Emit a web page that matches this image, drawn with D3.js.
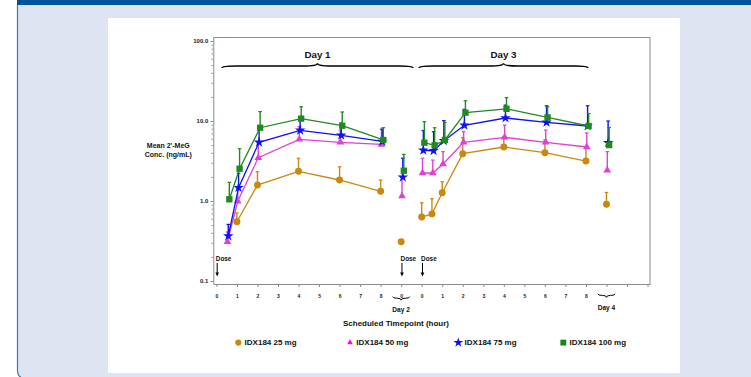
<!DOCTYPE html>
<html>
<head>
<meta charset="utf-8">
<script src="https://cdn.jsdelivr.net/npm/d3@7"></script>
<style>
  html, body { margin: 0; padding: 0; background: #ffffff; }
  svg { display: block; font-family: "Liberation Sans", Arial, sans-serif; }
</style>
</head>
<body>
<svg id="chart" width="751" height="377"></svg>
<script>
// Sampling schedule: study day and nominal hour of every sample
const sampleDay  = [1, 1, 1, 1, 1, 1, 2, 3, 3, 3, 3, 3, 3, 3, 4];
const sampleHour = [0.5, 1, 2, 4, 6, 8, 0, 0, 0.5, 1, 2, 4, 6, 8, 0];

// Mean concentration (ng/mL) and mean + SD for each dose group
const mean25   = [null, 0.55, 1.58, 2.35, 1.83, 1.32, 0.31, 0.63, 0.69, 1.27, 3.9, 4.73, 4.02, 3.16, 0.91];
const upper25  = [null, 0.71, 2.32, 3.42, 2.68, 1.83, null, 0.95, 1.07, 1.74, 6.2, 6.36, 5.79, 4.77, 1.28];
const mean50   = [0.31, 0.99, 3.48, 5.9, 5.42, 5.1, 1.15, 2.24, 2.24, 2.9, 5.42, 6.25, 5.42, 4.73, 2.42];
const upper50  = [0.41, 1.44, 5.3, 8.5, 7.7, 7.9, 1.98, 3.42, 3.25, 4.14, 7.35, 8.9, 7.7, 7.1, 4.14];
const mean75   = [0.365, 1.47, 5.42, 7.65, 6.63, 5.57, 1.98, 4.3, 4.25, 5.67, 8.84, 10.9, 9.63, 8.66, 5.35];
const upper75  = [0.51, 2.22, 8.1, 10.8, 9.4, 7.9, 3.42, 7.6, 7.35, 10.1, 14, 15.8, 15.5, 15.5, 10.0];
const mean100  = [1.05, 2.53, 8.24, 10.7, 8.73, 5.79, 2.39, 5.35, 4.97, 5.79, 12.7, 14.2, 11.1, 8.66, 5.0];
const upper100 = [1.71, 4.5, 13.1, 15.1, 12.96, 8.24, 3.83, 9.8, 8.24, 9.6, 17.9, 19.6, 15.1, 12.4, 8.3];

const groupNames = ["IDX184 25 mg", "IDX184 50 mg", "IDX184 75 mg", "IDX184 100 mg"];

// Axis labels
const xTickLabels = ["0","1","2","3","4","5","6","7","8","0","0","1","2","3","4","5","6","7","8","","",""];
const yTickValues = [0.1, 1, 10, 100];
const yTickLabels = ["0.1", "1.0", "10.0", "100.0"];
const dosingSlots = [0, 9, 10];

// ---- layout ----
const svg = d3.select("#chart");
const dayStart = {1: 0, 2: 9, 3: 10, 4: 19};
const slotOf = (day, hour) => dayStart[day] + hour;

const x = d3.scaleLinear().domain([-0.15, 21.12]).range([213.3, 650]);
const y = d3.scaleLog().domain([0.0917, 110.6]).range([284, 37.5]);

const groups = [
  {name: groupNames[0], mean: mean25,  upper: upper25,  color: "#C98810", symbol: d3.symbolCircle,   size: 38, legendSize: 30, dodge: 0.0},
  {name: groupNames[1], mean: mean50,  upper: upper50,  color: "#E040D6", symbol: d3.symbolTriangle, size: 26, legendSize: 14, dodge: 0.04, legendColor: "#FF00FF"},
  {name: groupNames[2], mean: mean75,  upper: upper75,  color: "#1010F5", symbol: d3.symbolStar,     size: 34, legendSize: 30, dodge: 0.08},
  {name: groupNames[3], mean: mean100, upper: upper100, color: "#1F8A1F", symbol: d3.symbolSquare,   size: 40, legendSize: 34, dodge: 0.13, legendColor: "#118811"}
];

// ---- page frame ----
svg.append("path")
  .attr("d", "M17.5,0 H751 V377 H22 Q17.5,377 17.5,370 Z")
  .attr("fill", "#DEE4F1");
svg.append("path")
  .attr("d", "M17.5,4 V370 Q17.5,376 21,377")
  .attr("fill", "none").attr("stroke", "#4F72A8").attr("stroke-width", 1.2);
svg.append("rect").attr("x", 17).attr("y", 0).attr("width", 734).attr("height", 5).attr("fill", "#00529C");
svg.append("rect").attr("x", 108).attr("y", 18).attr("width", 572).attr("height", 355).attr("fill", "#ffffff");

// ---- axes ----
const axisColor = "#8C8C8C";

const xAxis = svg.append("g")
  .attr("transform", "translate(0,284)")
  .call(d3.axisBottom(x).tickValues(d3.range(22)).tickFormat(i => xTickLabels[i]).tickSize(3).tickPadding(7).tickSizeOuter(0));
xAxis.selectAll("text").attr("font-size", 5).attr("font-weight", "bold").attr("fill", "#222");

const yAxis = svg.append("g")
  .attr("transform", "translate(213.3,0)")
  .call(d3.axisLeft(y).tickValues(yTickValues).tickFormat((d, i) => yTickLabels[i]).tickSize(3).tickPadding(2).tickSizeOuter(0));
yAxis.selectAll("text").attr("font-size", 6).attr("font-weight", "bold").attr("fill", "#222");

const minorTicks = [];
[0.1, 1, 10].forEach(dec => { for (let k = 2; k <= 9; k++) minorTicks.push(dec * k); });
svg.append("g")
  .attr("transform", "translate(213.3,0)")
  .call(d3.axisLeft(y).tickValues(minorTicks).tickFormat("").tickSize(1.8).tickSizeOuter(0))
  .select(".domain").remove();

svg.selectAll(".domain, .tick line").attr("stroke", axisColor);

// top and right frame
svg.append("path")
  .attr("d", `M${x.range()[0]},${y.range()[1]} H${x.range()[1]} V${y.range()[0]}`)
  .attr("fill", "none").attr("stroke", axisColor).attr("stroke-width", 1);

// ---- curly braces ----
function brace(x0, x1, yEnd, yFlat, yTip, r) {
  const m = (x0 + x1) / 2;
  return `M${x0},${yEnd} Q${x0},${yFlat} ${x0 + r},${yFlat} L${m - r},${yFlat} Q${m},${yFlat} ${m},${yTip}` +
         ` Q${m},${yFlat} ${m + r},${yFlat} L${x1 - r},${yFlat} Q${x1},${yFlat} ${x1},${yEnd}`;
}
const braceG = svg.append("g").attr("fill", "none").attr("stroke", "#000");
braceG.append("path").attr("d", brace(222, 413, 68, 66, 63.2, 14)).attr("stroke-width", 1.4);
braceG.append("path").attr("d", brace(419, 588, 68, 66, 63.2, 14)).attr("stroke-width", 1.4);
braceG.append("path").attr("d", brace(x(9) - 8.5, x(9) + 8.5, 296.6, 298.2, 300.2, 4)).attr("stroke-width", 1);
braceG.append("path").attr("d", brace(x(19) - 8.5, x(19) + 8.5, 293.8, 295.4, 297.4, 4)).attr("stroke-width", 1);

const txt = (tx, ty, s, size, anchor) => svg.append("text")
  .attr("x", tx).attr("y", ty).text(s)
  .attr("font-size", size).attr("font-weight", "bold")
  .attr("text-anchor", anchor || "middle").attr("fill", "#111");

txt(317.5, 58.3, "Day 1", 9.8);
txt(503.5, 58.3, "Day 3", 9.8);
txt(x(9), 311.6, "Day 2", 6.6);
txt(x(19), 310.4, "Day 4", 6.6);
txt(396, 325.8, "Scheduled Timepoint (hour)", 8);
txt(168.3, 147.6, "Mean 2'-MeG", 7);
txt(168.3, 156.6, "Conc. (ng/mL)", 7);

// ---- dosing markers ----
dosingSlots.forEach(s => {
  const ax = x(s) + 0.8;
  txt(x(s) - 0.6, 261.3, "Dose", 6.4, "start");
  svg.append("line").attr("x1", ax).attr("x2", ax).attr("y1", 263).attr("y2", 273)
    .attr("stroke", "#000").attr("stroke-width", 1);
  svg.append("path").attr("d", `M${ax - 1.8},${272.5} L${ax + 1.8},${272.5} L${ax},${276.5} Z`).attr("fill", "#000");
});

// ---- series ----
const plotG = svg.append("g");
groups.forEach(g => {
  const pts = g.mean.map((v, i) => ({
    day: sampleDay[i],
    cx: x(slotOf(sampleDay[i], sampleHour[i]) + g.dodge),
    v: v,
    up: g.upper[i]
  })).filter(p => p.v != null);

  // error bars (mean to mean + SD) with caps
  pts.filter(p => p.up != null).forEach(p => {
    plotG.append("line").attr("x1", p.cx).attr("x2", p.cx).attr("y1", y(p.v)).attr("y2", y(p.up))
      .attr("stroke", g.color).attr("stroke-width", 1.4);
    plotG.append("line").attr("x1", p.cx - 1.8).attr("x2", p.cx + 1.8).attr("y1", y(p.up)).attr("y2", y(p.up))
      .attr("stroke", g.color).attr("stroke-width", 1.2);
  });

  // profile lines within day 1 and day 3
  const line = d3.line().x(p => p.cx).y(p => y(p.v));
  [1, 3].forEach(d => {
    plotG.append("path").datum(pts.filter(p => p.day === d))
      .attr("d", line).attr("fill", "none").attr("stroke", g.color).attr("stroke-width", 1.3);
  });

  plotG.selectAll(null).data(pts).join("path")
    .attr("transform", p => `translate(${p.cx},${y(p.v)})`)
    .attr("d", d3.symbol(g.symbol, g.size))
    .attr("fill", g.color);
});

// ---- legend ----
const legendX = [238.3, 350, 458.3, 563.3];
groups.forEach((g, i) => {
  svg.append("path")
    .attr("transform", `translate(${legendX[i]},342.6)`)
    .attr("d", d3.symbol(g.symbol, g.legendSize))
    .attr("fill", g.legendColor || g.color);
  txt(legendX[i] + 6.3, 345.4, g.name, 8, "start");
});
</script>
</body>
</html>
